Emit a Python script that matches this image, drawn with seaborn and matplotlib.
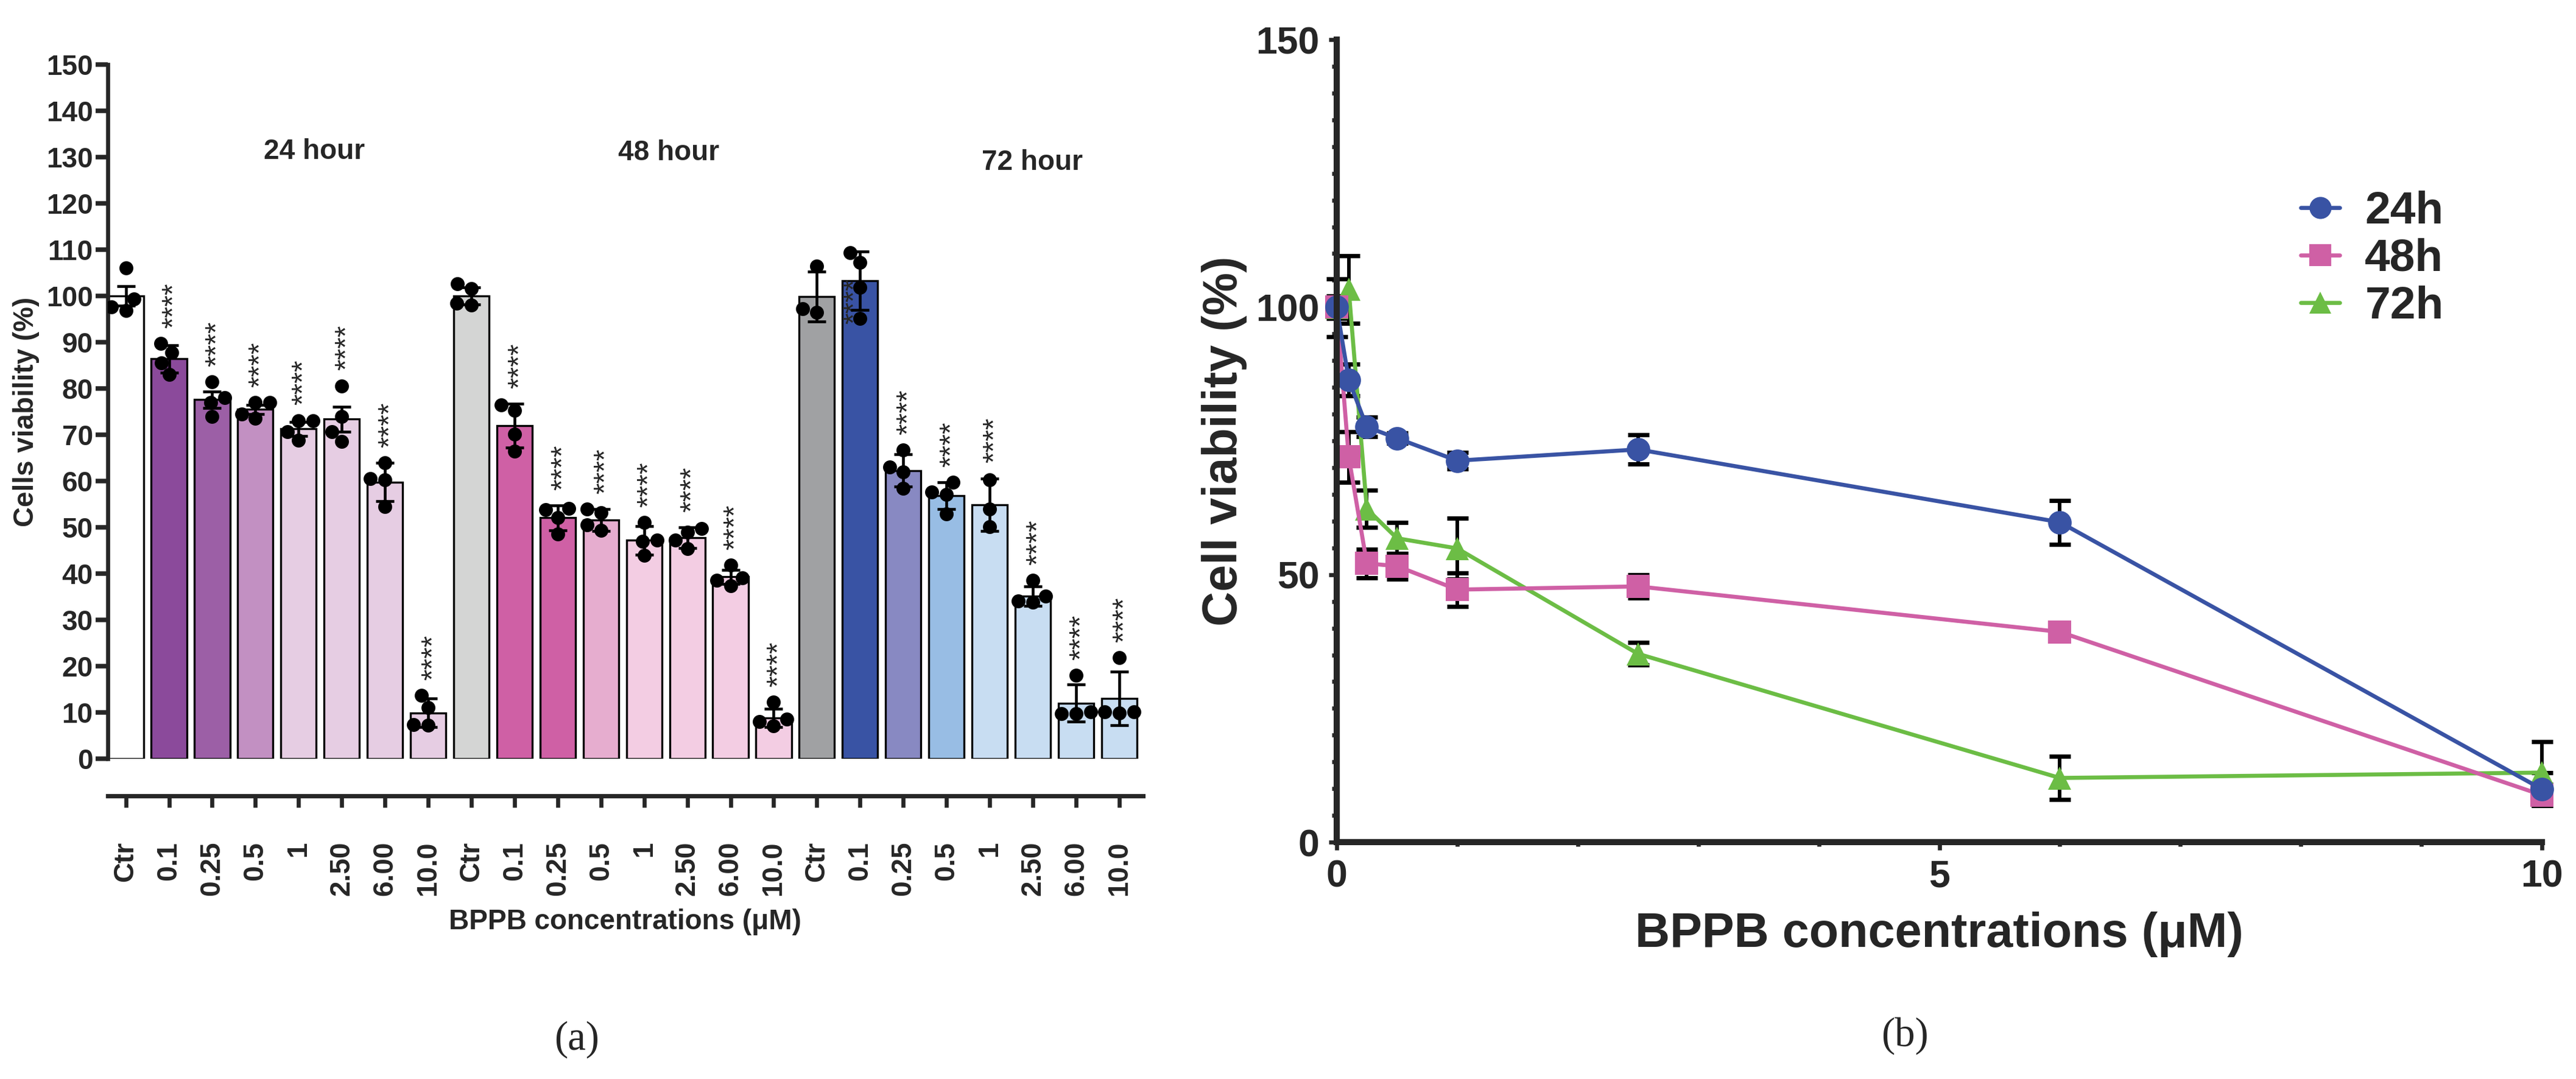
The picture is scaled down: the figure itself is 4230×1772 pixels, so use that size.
import numpy as np
import pandas as pd
import matplotlib
matplotlib.use('Agg')
import matplotlib.pyplot as plt
from matplotlib.lines import Line2D
from matplotlib.ticker import MultipleLocator
import seaborn as sns

# doses as written under the bars, and as numbers for the curve panel
doses = ['Ctr', '0.1', '0.25', '0.5', '1', '2.50', '6.00', '10.0']
conc = [0, 0.1, 0.25, 0.5, 1, 2.5, 6, 10]
times = ['24h', '48h', '72h']
group_titles = ['24 hour', '48 hour', '72 hour']

# bar heights (mean viability, %) and SD
mean_24 = [100.0, 86.4, 77.6, 75.5, 71.3, 73.4, 59.8, 9.9]
mean_48 = [100.0, 72.0, 52.1, 51.6, 47.2, 47.8, 39.3, 8.8]
mean_72 = [99.9, 103.3, 62.3, 56.8, 54.9, 35.2, 12.0, 13.0]
sd_24 = [2.1, 3.0, 1.8, 1.0, 1.5, 2.7, 4.1, 3.1]
sd_48 = [1.8, 4.7, 2.7, 2.4, 3.1, 2.2, 1.5, 2.0]
sd_72 = [5.4, 6.3, 3.5, 2.9, 5.7, 2.1, 4.0, 5.8]

# single replicates (black dots)
pts_24 = [[99.4, 106.1, 97.7, 96.9], [89.8, 85.6, 87.8, 83.0], [81.5, 77.0, 78.0, 74.0],
          [77.0, 77.0, 74.5, 73.5], [73.1, 73.1, 70.7, 68.8], [80.6, 74.0, 70.7, 68.5],
          [63.9, 60.5, 60.3, 54.5], [11.0, 13.7, 7.4, 7.2]]
pts_48 = [[102.6, 101.6, 98.5, 98.0], [76.4, 75.3, 70.1, 66.5], [54.1, 53.8, 52.1, 48.5],
          [54.0, 53.2, 50.5, 49.4], [51.0, 47.2, 47.0, 44.0], [49.8, 49.0, 47.2, 45.4],
          [41.8, 39.1, 38.5, 37.4], [12.3, 8.5, 8.0, 7.1]]
pts_72 = [[106.4, 97.2, 96.5], [109.4, 107.2, 101.8, 95.2], [66.7, 62.0, 63.1, 58.4],
          [59.8, 57.6, 57.1, 52.9], [60.3, 54.0, 50.2], [38.5, 35.2, 34.1, 33.8],
          [18.0, 10.1, 9.8, 9.8], [21.8, 10.1, 10.1, 9.9]]

# significance vs control (Ctr bars have none)
stars = ['', '****', '****', '****', '****', '****', '****', '****']

bar_colours = {
    '24h': ['#FFFFFF', '#8B4A9B', '#9C5FA6', '#C290C2', '#E6CDE3', '#E6CDE3', '#E6CDE3', '#E6CDE3'],
    '48h': ['#D4D5D4', '#CF60A5', '#CF60A5', '#E6ADCF', '#F3CDE3', '#F3CDE3', '#F3CDE3', '#F3CDE3'],
    '72h': ['#A0A1A3', '#3953A4', '#8889C2', '#98BDE4', '#C8DDF2', '#C8DDF2', '#C8DDF2', '#C8DDF2'],
}
line_colours = {'24h': '#3953A4', '48h': '#CF60A5', '72h': '#6CBD45'}
line_markers = {'24h': 'o', '48h': 's', '72h': '^'}

means = {'24h': mean_24, '48h': mean_48, '72h': mean_72}
sds = {'24h': sd_24, '48h': sd_48, '72h': sd_72}
pts = {'24h': pts_24, '48h': pts_48, '72h': pts_72}

# tables for seaborn
bar_rows, pt_rows, curve_rows = [], [], []
for t in times:
    for i, d in enumerate(doses):
        cond = t + ' ' + d
        bar_rows.append({'cond': cond, 'time': t, 'mean': means[t][i], 'sd': sds[t][i],
                         'colour': bar_colours[t][i], 'star': stars[i],
                         'top': max(max(pts[t][i]), means[t][i] + sds[t][i])})
        for v in pts[t][i]:
            pt_rows.append({'cond': cond, 'value': v})
        curve_rows.append({'time': t, 'conc': conc[i], 'mean': means[t][i], 'sd': sds[t][i]})
bars = pd.DataFrame(bar_rows)
dots = pd.DataFrame(pt_rows)
curve = pd.DataFrame(curve_rows)
order = list(bars['cond'])

sns.set_style('ticks')
plt.rcParams['font.family'] = ['Liberation Sans', 'DejaVu Sans']
plt.rcParams['font.weight'] = 'bold'
plt.rcParams['axes.labelweight'] = 'bold'

fig = plt.figure(figsize=(14.1, 5.9067), dpi=300)
ax1 = fig.add_axes([0.0418, 0.2968, 0.4019, 0.6433])
ax2 = fig.add_axes([0.5189, 0.2195, 0.4679, 0.7438])

# ---------- (a) bar chart ----------
sns.barplot(data=bars, x='cond', y='mean', hue='cond', order=order, hue_order=order,
            palette=dict(zip(bars['cond'], bars['colour'])), saturation=1, legend=False,
            errorbar=None, width=0.82, edgecolor='black', linewidth=0.8, ax=ax1)
xpos = np.arange(len(order))
ax1.errorbar(xpos, bars['mean'], yerr=bars['sd'], fmt='none', ecolor='black',
             elinewidth=1.1, capsize=3.6, capthick=1.1, zorder=4)
sns.swarmplot(data=dots, x='cond', y='value', order=order, color='black', size=5.5,
              ax=ax1, zorder=3)

for i, row in bars.iterrows():
    if not row['star']:
        continue
    x, y = i + 0.12, row['top'] + 3.3
    if row['cond'] == '72h 0.1':   # placed on the bar in the original figure
        x, y = i - 0.12, 94
    ax1.text(x, y, row['star'], rotation=90, ha='center', va='bottom',
             fontsize=11.5, fontweight='normal')

title_pos = [(4.36, 131.2), (12.57, 131.0), (20.99, 128.8)]
for name, (tx, ty) in zip(group_titles, title_pos):
    ax1.text(tx, ty, name, ha='center', va='center', fontsize=11, fontweight='bold')

sns.despine(ax=ax1)
ax1.spines['left'].set_linewidth(1.6)
ax1.spines['bottom'].set_linewidth(1.7)
ax1.spines['bottom'].set_position(('outward', 14.6))
ax1.set_xlim(-0.42, 23.55)
ax1.set_ylim(0, 150)
ax1.set_yticks(range(0, 151, 10))
ax1.set_xticks(xpos)
ax1.set_xticklabels(doses * 3)
ax1.tick_params(axis='x', length=4.5, width=1.6, pad=13.5, labelsize=11, labelrotation=90)
ax1.tick_params(axis='y', length=4.8, width=1.8, pad=1, labelsize=11)
ax1.set_xlabel('BPPB concentrations (\u03bcM)', fontsize=11, labelpad=5)
ax1.set_ylabel('Cells viability (%)', fontsize=11, labelpad=2.5)

# ---------- (b) viability curves ----------
for t in times:
    sub = curve[curve['time'] == t]
    ax2.errorbar(sub['conc'], sub['mean'], yerr=sub['sd'], fmt='none', ecolor='black',
                 elinewidth=1.4, capsize=4.2, capthick=1.7, zorder=1.8, clip_on=False)
sns.lineplot(data=curve, x='conc', y='mean', hue='time', style='time',
             hue_order=times[::-1], style_order=times[::-1], palette=line_colours,
             markers=line_markers, dashes=False, markersize=9.3, markeredgewidth=0,
             linewidth=1.6, legend=False, clip_on=False, ax=ax2)

handles = [Line2D([], [], color=line_colours[t], marker=line_markers[t], markersize=8.7,
                  markeredgewidth=0, linewidth=1.6) for t in times]
ax2.legend(handles, times, loc='upper left', bbox_to_anchor=(0.80, 0.812), frameon=False,
           prop={'weight': 'bold', 'size': 18}, handlelength=0.85, handletextpad=0.55,
           labelspacing=0.12, borderpad=0, borderaxespad=0)

ax2.set_xlim(0, 10)
ax2.set_ylim(0, 150)
ax2.set_xticks([0, 5, 10])
ax2.set_yticks([0, 50, 100, 150])
ax2.xaxis.set_minor_locator(MultipleLocator(1))
ax2.yaxis.set_minor_locator(MultipleLocator(5))
ax2.tick_params(which='major', length=3.2, width=1.6, labelsize=15)
ax2.tick_params(axis='y', which='major', pad=3.6)
ax2.tick_params(axis='x', which='major', pad=3.4)
ax2.tick_params(axis='x', which='minor', length=1.6, width=1.6)
ax2.tick_params(axis='y', which='minor', length=2.0, width=1.6)
sns.despine(ax=ax2)
for s in ['left', 'bottom']:
    ax2.spines[s].set_linewidth(2.4)
ax2.set_xlabel('BPPB concentrations (\u03bcM)', fontsize=19, labelpad=6.5)
ax2.set_ylabel('Cell viability (%)', fontsize=19, labelpad=3.4)

# panel letters
fig.text(947 / 4230, 1 - 1707 / 1772, '(a)', ha='center', va='center', fontsize=16,
         fontweight='normal', family=['Liberation Serif', 'DejaVu Serif'])
fig.text(3128 / 4230, 1 - 1701 / 1772, '(b)', ha='center', va='center', fontsize=16,
         fontweight='normal', family=['Liberation Serif', 'DejaVu Serif'])

fig.savefig('out.png', dpi=300)
